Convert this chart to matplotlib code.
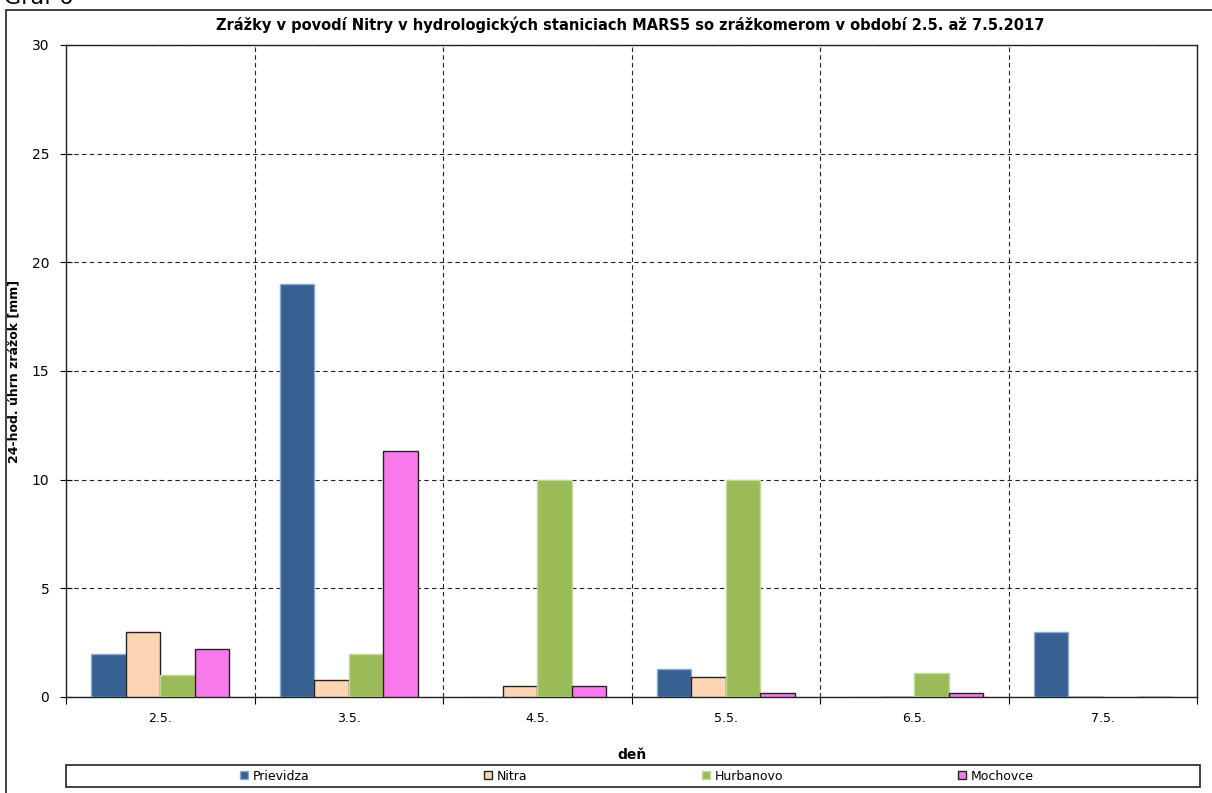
import matplotlib.pyplot as plt
import matplotlib.patches as mpatches
import numpy as np

# 24-hour precipitation totals [mm] per station and day
days = ['2.5.', '3.5.', '4.5.', '5.5.', '6.5.', '7.5.']
prievidza = [2.0, 19.0, 0.0, 1.3, 0.0, 3.0]
nitra = [3.0, 0.8, 0.5, 0.9, 0.0, 0.0]
hurbanovo = [1.0, 2.0, 10.0, 10.0, 1.1, 0.0]
mochovce = [2.2, 11.3, 0.5, 0.2, 0.2, 0.0]

stations = ['Prievidza', 'Nitra', 'Hurbanovo', 'Mochovce']
series = [prievidza, nitra, hurbanovo, mochovce]
colors = ['#366092', '#FCD5B4', '#9BBB59', '#F879EC']
edges = ['#8EA9CC', '#222222', '#C4D79B', '#222222']

plt.rcParams['font.family'] = ['DejaVu Sans']

fig = plt.figure(figsize=(12.12, 7.93), dpi=100)
ax = fig.add_axes([66 / 1212, 1 - 697 / 793, (1197 - 66) / 1212, (697 - 45) / 793])

x = np.arange(len(days)) + 0.5
w = 0.183
for k, (vals, c, ec, name) in enumerate(zip(series, colors, edges, stations)):
    ax.bar(x + (k - 1.5) * w, vals, width=w, color=c, edgecolor=ec, linewidth=1.0,
           label=name, zorder=3)

ax.set_xlim(0, len(days))
ax.set_ylim(0, 30)
ax.set_yticks(np.arange(0, 31, 5))
ax.set_xticks(np.arange(0, len(days) + 1))
ax.set_xticklabels([])
ax.set_xticks(x, minor=True)
ax.set_xticklabels(days, minor=True, fontsize=9)
ax.tick_params(axis='x', which='minor', length=0, pad=11)
ax.tick_params(axis='x', which='major', direction='out', length=5)
ax.tick_params(axis='y', direction='inout', length=8, labelsize=10, pad=8)

ax.grid(True, axis='y', linestyle=(0, (4, 3)), color='#222222', linewidth=0.8, zorder=0)
ax.grid(True, axis='x', which='major', linestyle=(0, (4, 3)), color='#222222', linewidth=0.8, zorder=0)
for s in ax.spines.values():
    s.set_linewidth(1.0)
    s.set_color('#222222')

ax.set_xlabel('deň', fontsize=10, fontweight='bold')
ax.xaxis.set_label_coords(0.5, -(748 - 697) / 652)
ax.set_ylabel('24-hod. úhrn zrážok [mm]', fontsize=9, fontweight='bold')
ax.yaxis.set_label_coords(-(66 - 20) / 1131, 0.5)
fig.text(0.52, 1 - 25 / 793, 'Zrážky v povodí Nitry v hydrologických staniciach MARS5 so zrážkomerom v období 2.5. až 7.5.2017',
         ha='center', va='center', fontsize=10.5, fontweight='bold')

# chart area frame and the caption above it, cut at the top edge
fig.patches.append(mpatches.Rectangle((6 / 1212, -0.01), 1.0, 1 - 10 / 793 + 0.01,
                                      transform=fig.transFigure, fill=False,
                                      edgecolor='#222222', linewidth=1.2))
fig.text(0.003, 1 - 4 / 793, 'Graf 6', ha='left', va='baseline', fontsize=16)

# legend box
fig.patches.append(mpatches.Rectangle((66 / 1212, 1 - 787 / 793), (1200 - 66) / 1212, 22 / 793,
                                      transform=fig.transFigure, fill=False,
                                      edgecolor='#222222', linewidth=1.2))
fig.legend(loc='center', bbox_to_anchor=(637 / 1212, 1 - 776 / 793), ncol=4, frameon=False,
           fontsize=9, handlelength=0.6, handleheight=0.6, handletextpad=0.4,
           columnspacing=14.0)

plt.savefig('out.png', dpi=100)
